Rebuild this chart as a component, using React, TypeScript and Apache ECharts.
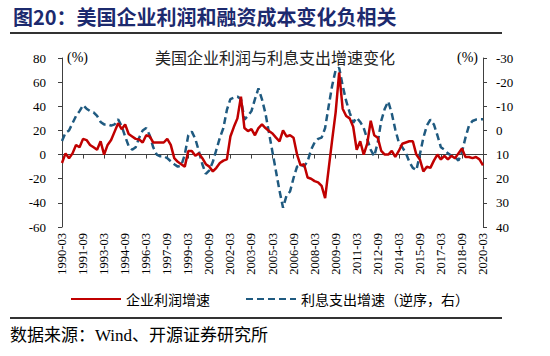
import React, { useEffect, useRef } from "react";
import * as echarts from "echarts";

const years: number[] = [];
for (let y = 1990; y <= 2020; y++) years.push(y);
const quarterMonths = ["03", "06", "09", "12"];
const categories: string[] = [];
years.forEach((y) => quarterMonths.forEach((m) => categories.push(`${y}-${m}`)));
categories.splice(121);

// 企业利润增速 (%), left axis
const profitGrowth: number[] = [
  -7, 1, -3, 1, 8, 6, 13, 12, 8, 6,
  4, 11, 0, 8, 12, 19, 26, 21, 25, 17,
  15, 13, 12.5, 10, 16, 15, 10, 10, 10, 10,
  13, 8, -3, -6, -8, -10, 3, 3, -1, 1,
  -3, -8, -10, -14, -11, -7, -5, -4, 15, 23,
  30, 48, 22, 19.5, 21, 16, 22, 25, 22, 19.5,
  17.5, 14, 11, 20, 15, 16, 14, 0, -9, -8,
  -19, -20, -22, -23, -26, -36, -12, 12, 35, 68,
  38, 32, 30, 23, 4, 11, 0, 9, 28, 16,
  14, 3, 0, 0, 3, -2, 3, 9, 10, 11,
  11, 0, -4, -14, -10, -11, -5, 0, -4, -1,
  -4, -1, -3, 1, 5, -2, -2, -3, -2, -4,
  -9,
];

// 利息支出增速 (%), right axis, reversed
const interestGrowth: number[] = [
  4.4, 1, 0, -3, -6, -8, -10.5, -9, -8, -7.5,
  -6, -3.5, -2.5, -2.5, -2, -2.5, -4.6, -1.8, 2.5, 6.5,
  8, 7, 3, 0, -1, 2, 7, 10, 10.7, 10.7,
  11.5, 12.8, 14, 15, 14.5, 10, 2, 0.5, 3.5, 8.5,
  14, 18, 16.5, 13, 8, 3, -1, -8.5, -13, -13.6,
  -14, -13, -4.5, -6, -8, -13, -17.4, -12.9, -7, 1,
  9, 17, 25, 32, 27, 25.3, 19.7, 15, 14.2, 14.9,
  12.8, 8, 5, 3.5, 3, -1, -10, -18.5, -25, -26,
  -18.5, -12.2, -7.4, -3.2, -5.3, -3.5, -1, 3.5, 8, 10.7,
  5, -4, -9, -12, -7, -0.4, 5, 7, 9.3, 13,
  15.5, 16.5, 10, 3, -2, -4.5, -2.5, 2, 7, 8,
  9.5, 10.5, 11, 12.5, 9, 3, -2, -3.9, -4.5, -4.6,
  -4.6,
];

const seriesNames = ["企业利润增速", "利息支出增速（逆序，右）"];
const figureTitle = "图20：美国企业利润和融资成本变化负相关";
const chartTitle = "美国企业利润与利息支出增速变化";
const sourceText = "数据来源：Wind、开源证券研究所";

const SERIF = "'Liberation Serif', 'Times New Roman', 'Noto Sans CJK SC', serif";
const CJK = "'Noto Sans CJK SC', sans-serif";
const AXIS_COLOR = "#404040";

export default function App() {
  const ref = useRef<HTMLDivElement>(null);
  useEffect(() => {
    if (!ref.current) return;
    const chart = echarts.init(ref.current, null, { renderer: "svg" });
    const axisLabelBase = { color: "#000", fontFamily: SERIF, fontSize: 13 };
    chart.setOption({
      animation: false,
      backgroundColor: "#fff",
      grid: { left: 62, right: 67, top: 58, height: 169, containLabel: false },
      legend: {
        data: seriesNames,
        left: 65,
        top: 287,
        itemWidth: 50,
        itemHeight: 14,
        itemGap: 35,
        itemStyle: { opacity: 0 },
        textStyle: { fontSize: 14, fontFamily: CJK, color: "#000" },
      },
      xAxis: {
        type: "category",
        data: categories,
        boundaryGap: false,
        axisLine: { onZero: true, lineStyle: { color: AXIS_COLOR, width: 1 } },
        axisTick: { interval: 5, length: 4, lineStyle: { color: AXIS_COLOR } },
        axisLabel: { ...axisLabelBase, fontSize: 12.5, interval: 5, rotate: 90, margin: 6 },
        splitLine: { show: false },
      },
      yAxis: [
        {
          type: "value",
          min: -60,
          max: 80,
          interval: 20,
          position: "left",
          axisLine: { show: true, lineStyle: { color: AXIS_COLOR } },
          axisTick: { show: true, length: 4, lineStyle: { color: AXIS_COLOR } },
          axisLabel: { ...axisLabelBase, margin: 16 },
          splitLine: { show: false },
        },
        {
          type: "value",
          min: -30,
          max: 40,
          interval: 10,
          inverse: true,
          position: "right",
          axisLine: { show: true, lineStyle: { color: AXIS_COLOR } },
          axisTick: { show: true, length: 4, lineStyle: { color: AXIS_COLOR } },
          axisLabel: { ...axisLabelBase, margin: 13 },
          splitLine: { show: false },
        },
      ],
      series: [
        {
          name: seriesNames[1],
          type: "line",
          yAxisIndex: 1,
          data: interestGrowth,
          symbol: "none",
          showSymbol: false,
          lineStyle: { color: "#1f5a80", width: 2.5, type: [7, 4] },
          itemStyle: { color: "#1f5a80" },
        },
        {
          name: seriesNames[0],
          type: "line",
          yAxisIndex: 0,
          data: profitGrowth,
          symbol: "none",
          showSymbol: false,
          lineStyle: { color: "#c00000", width: 2.5 },
          itemStyle: { color: "#c00000" },
        },
      ],
      graphic: [
        {
          type: "text",
          x: 13,
          y: 16,
          style: {
            text: figureTitle,
            font: `bold 20px ${CJK}`,
            fill: "#1c2a6e",
            verticalAlign: "middle",
          },
        },
        {
          type: "line",
          shape: { x1: 10, y1: 33, x2: 502, y2: 33 },
          style: { stroke: "#333", lineWidth: 2 },
        },
        {
          type: "text",
          x: 275,
          y: 57,
          style: {
            text: chartTitle,
            font: `16px ${CJK}`,
            fill: "#222",
            align: "center",
            verticalAlign: "middle",
          },
        },
        {
          type: "text",
          x: 67,
          y: 57,
          style: { text: "(%)", font: `14px ${SERIF}`, fill: "#000", verticalAlign: "middle" },
        },
        {
          type: "text",
          x: 457,
          y: 57,
          style: { text: "(%)", font: `14px ${SERIF}`, fill: "#000", verticalAlign: "middle" },
        },
        {
          type: "line",
          shape: { x1: 10, y1: 318, x2: 502, y2: 318 },
          style: { stroke: "#333", lineWidth: 2 },
        },
        {
          type: "text",
          x: 10,
          y: 335,
          style: {
            text: sourceText,
            font: `17px ${SERIF}`,
            fill: "#000",
            verticalAlign: "middle",
          },
        },
      ],
    });
    return () => chart.dispose();
  }, []);
  return (
    <div
      ref={ref}
      style={{ position: "fixed", left: 0, top: 0, width: 550, height: 356, background: "#fff" }}
    />
  );
}
